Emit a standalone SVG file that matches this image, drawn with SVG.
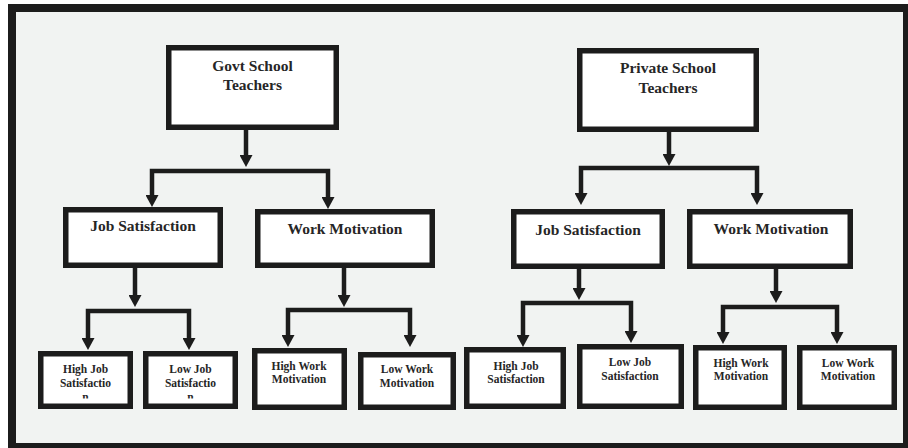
<svg xmlns="http://www.w3.org/2000/svg" width="908" height="448" viewBox="0 0 908 448">
<defs>
<marker id="ah" viewBox="0 0 12 13" refX="6" refY="6.5" markerWidth="12" markerHeight="13" markerUnits="userSpaceOnUse" orient="auto-start-reverse">
<path d="M0,0 L12,6.5 L0,13 z" fill="#1c1c1c"/>
</marker>
<clipPath id="c1"><rect x="40" y="350" width="200" height="48.5"/></clipPath>
</defs>
<style>
.box{fill:#ffffff;stroke:#1c1c1c;stroke-width:5.5}
text{font-family:'Liberation Serif','Times New Roman',Times,serif;font-weight:700;fill:#262626;text-anchor:middle}
.big{font-size:15.5px}
.sm{font-size:11.5px}
.con{fill:none;stroke:#1c1c1c;stroke-width:4.5;stroke-linejoin:miter;marker-end:url(#ah)}
.br{marker-start:url(#ah)}
</style>
<rect x="0" y="0" width="908" height="448" fill="#ffffff"/>
<rect x="12" y="8" width="895" height="439" fill="#f1f3f2" stroke="#1c1c1c" stroke-width="8"/>

<g id="connectors">
<path class="con" d="M246,130 V161"/>
<path class="con br" d="M152,201 V171 H328 V203"/>
<path class="con" d="M135,268 V301"/>
<path class="con br" d="M88,344 V311 H189 V344"/>
<path class="con" d="M344,268 V301"/>
<path class="con br" d="M288,341 V310 H410 V341"/>
<path class="con" d="M669,132 V160"/>
<path class="con br" d="M581,199 V168 H757 V199"/>
<path class="con" d="M579,269 V294"/>
<path class="con br" d="M523,341 V303 H631 V337"/>
<path class="con" d="M776,269 V297"/>
<path class="con br" d="M723,338 V307 H837 V338"/>
</g>

<g id="govt">
<rect class="box" x="168.75" y="47.75" width="167.5" height="79.5"/>
<text class="big" x="252.5" y="71">Govt School</text>
<text class="big" x="252.5" y="90">Teachers</text>
</g>
<g id="private">
<rect class="box" x="579.75" y="50.75" width="176.5" height="78.5"/>
<text class="big" x="668" y="73">Private School</text>
<text class="big" x="668" y="93">Teachers</text>
</g>
<g id="jobsat-govt">
<rect class="box" x="65.75" y="209.75" width="154.5" height="55.5"/>
<text class="big" x="143" y="231">Job Satisfaction</text>
</g>
<g id="workmot-govt">
<rect class="box" x="257.75" y="211.75" width="174.5" height="53.5"/>
<text class="big" x="345" y="234">Work Motivation</text>
</g>
<g id="jobsat-private">
<rect class="box" x="513.75" y="211.75" width="148.5" height="54.5"/>
<text class="big" x="588" y="235">Job Satisfaction</text>
</g>
<g id="workmot-private">
<rect class="box" x="689.75" y="211.75" width="160.5" height="54.5"/>
<text class="big" x="771" y="234">Work Motivation</text>
</g>

<g id="highjob-govt">
<rect class="box" x="40.75" y="353.75" width="89.5" height="52.5"/>
<text class="sm" x="85.5" y="373">High Job</text>
<text class="sm" x="85.5" y="387">Satisfactio</text>
<text class="sm" x="85.5" y="401" clip-path="url(#c1)">n</text>
</g>
<g id="lowjob-govt">
<rect class="box" x="145.75" y="353.75" width="89.5" height="52.5"/>
<text class="sm" x="190.5" y="373">Low Job</text>
<text class="sm" x="190.5" y="387">Satisfactio</text>
<text class="sm" x="190.5" y="401" clip-path="url(#c1)">n</text>
</g>
<g id="highwork-govt">
<rect class="box" x="254.75" y="350.75" width="89.5" height="56.5"/>
<text class="sm" x="299" y="370">High Work</text>
<text class="sm" x="299" y="383">Motivation</text>
</g>
<g id="lowwork-govt">
<rect class="box" x="360.75" y="354.75" width="92.5" height="52.5"/>
<text class="sm" x="407" y="373">Low Work</text>
<text class="sm" x="407" y="387">Motivation</text>
</g>
<g id="highjob-private">
<rect class="box" x="466.75" y="349.75" width="96.5" height="56.5"/>
<text class="sm" x="516" y="370">High Job</text>
<text class="sm" x="516" y="383">Satisfaction</text>
</g>
<g id="lowjob-private">
<rect class="box" x="579.75" y="346.75" width="101.5" height="59.5"/>
<text class="sm" x="630" y="366">Low Job</text>
<text class="sm" x="630" y="380">Satisfaction</text>
</g>
<g id="highwork-private">
<rect class="box" x="695.75" y="347.75" width="88.5" height="59.5"/>
<text class="sm" x="741" y="367">High Work</text>
<text class="sm" x="741" y="380">Motivation</text>
</g>
<g id="lowwork-private">
<rect class="box" x="799.75" y="347.75" width="94.5" height="59.5"/>
<text class="sm" x="848" y="367">Low Work</text>
<text class="sm" x="848" y="380">Motivation</text>
</g>
</svg>
